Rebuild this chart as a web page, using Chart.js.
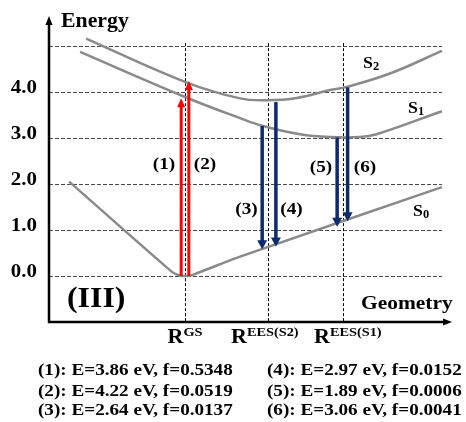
<!DOCTYPE html>
<html>
<head>
<meta charset="utf-8">
<script src="https://cdn.jsdelivr.net/npm/chart.js@4.4.0/dist/chart.umd.min.js"></script>
<style>
  html, body { margin: 0; padding: 0; background: #ffffff; }
  #wrap { width: 466px; height: 422px; }
</style>
</head>
<body>
<div id="wrap"><canvas id="c" width="466" height="422"></canvas></div>
<script>
// ---------- data (geometry coordinate in arbitrary units, energy in eV) ----------
const geomTicks = [3.375, 5.43, 7.29];
const geomMain = ['R', 'R', 'R'];
const geomSup = ['GS', 'EES(S2)', 'EES(S1)'];
const energyTicks = [0, 1, 2, 3, 4];
const energyTickLabels = ['0.0', '1.0', '2.0', '3.0', '4.0'];
const energyGrid = [0, 1, 2, 3, 4, 5];

const s2X = [0.92, 3.375, 4.74, 5.41, 6.15, 6.97, 7.39, 8.46, 9.75];
const s2E = [5.16, 4.22, 3.86, 3.82, 3.87, 4.04, 4.11, 4.40, 4.89];
const s1X = [0.77, 3.375, 4.74, 5.31, 6.23, 6.97, 7.72, 8.13, 9.75];
const s1E = [4.87, 3.89, 3.43, 3.26, 3.08, 3.02, 3.02, 3.08, 3.58];
const s0X = [0.5, 3.05, 3.25, 3.4, 3.55, 4.74, 9.75];
const s0E = [2.05, 0.09, 0.01, 0.0, 0.02, 0.42, 1.93];

// transitions: x position, start energy, end energy
const arrowX = [3.28, 3.47, 5.29, 5.63, 7.15, 7.41];
const arrowFrom = [0.0, 0.0, 3.26, 3.78, 3.01, 4.10];
const arrowTo = [3.86, 4.24, 0.58, 0.64, 1.07, 1.19];
const transE = [3.86, 4.22, 2.64, 2.97, 1.89, 3.06];
const transF = ['0.5348', '0.0519', '0.0137', '0.0152', '0.0006', '0.0041'];

const FONT = '"Liberation Serif", "Times New Roman", serif';
const GRAY = '#8a8a8a';
const RED = '#ff0000';
const NAVY = '#0c2a6c';

function txt(ctx, s, x, y, size, align, sx) {
  align = align || 'left';
  sx = sx || 1.12;
  ctx.save();
  ctx.font = 'bold ' + size + 'px ' + FONT;
  const w = ctx.measureText(s).width * sx;
  const x0 = align === 'left' ? x : (align === 'right' ? x - w : x - w / 2);
  ctx.translate(x0, y);
  ctx.scale(sx, 1);
  ctx.textAlign = 'left';
  ctx.textBaseline = 'alphabetic';
  ctx.fillStyle = '#000';
  ctx.fillText(s, 0, 0);
  ctx.restore();
  return w;
}
function measure(ctx, s, size, sx) {
  ctx.save();
  ctx.font = 'bold ' + size + 'px ' + FONT;
  const w = ctx.measureText(s).width * (sx || 1.12);
  ctx.restore();
  return w;
}

function arrow(ctx, x, y1, y2, color, lw, hw, hl) {
  const dir = y2 < y1 ? -1 : 1; // -1 up
  ctx.save();
  ctx.strokeStyle = color;
  ctx.fillStyle = color;
  ctx.lineWidth = lw;
  ctx.setLineDash([]);
  ctx.beginPath();
  ctx.moveTo(x, y1);
  ctx.lineTo(x, y2 - dir * hl * 0.8);
  ctx.stroke();
  ctx.beginPath();
  ctx.moveTo(x, y2);
  ctx.lineTo(x - hw / 2, y2 - dir * hl);
  ctx.lineTo(x + hw / 2, y2 - dir * hl);
  ctx.closePath();
  ctx.fill();
  ctx.restore();
}

const underlay = {
  id: 'underlay',
  beforeDatasetsDraw(chart) {
    const ctx = chart.ctx, xs = chart.scales.x, ys = chart.scales.y;
    const left = xs.getPixelForValue(0), gridRight = xs.getPixelForValue(9.75);
    ctx.save();
    ctx.strokeStyle = '#4a4a4a';
    ctx.lineWidth = 1;
    ctx.setLineDash([4, 2]);
    energyGrid.forEach(v => {
      const y = Math.round(ys.getPixelForValue(v)) + 0.5;
      ctx.beginPath(); ctx.moveTo(left, y); ctx.lineTo(gridRight, y); ctx.stroke();
    });
    ctx.strokeStyle = '#000';
    ctx.setLineDash([3, 2]);
    geomTicks.forEach(v => {
      const x = Math.round(xs.getPixelForValue(v)) + 0.5;
      ctx.beginPath(); ctx.moveTo(x, ys.getPixelForValue(5.06)); ctx.lineTo(x, ys.getPixelForValue(-1)); ctx.stroke();
    });
    ctx.restore();
  },
  afterDatasetsDraw(chart) {
    const ctx = chart.ctx, xs = chart.scales.x, ys = chart.scales.y;
    arrowX.forEach((ax, i) => {
      const up = arrowTo[i] > arrowFrom[i];
      arrow(ctx, xs.getPixelForValue(ax), ys.getPixelForValue(arrowFrom[i]), ys.getPixelForValue(arrowTo[i]),
        up ? RED : NAVY, up ? 3 : 3.5, up ? 8 : 10, 9);
    });
    const x0 = xs.getPixelForValue(0), y0 = ys.getPixelForValue(-1);
    const yTop = ys.getPixelForValue(ys.max), xEnd = xs.getPixelForValue(xs.max);
    ctx.save();
    ctx.strokeStyle = '#000'; ctx.fillStyle = '#000'; ctx.lineWidth = 2.5; ctx.setLineDash([]);
    ctx.beginPath(); ctx.moveTo(x0, y0 + 1); ctx.lineTo(x0, yTop + 6); ctx.stroke();
    ctx.beginPath(); ctx.moveTo(x0, yTop); ctx.lineTo(x0 - 3.5, yTop + 9); ctx.lineTo(x0 + 3.5, yTop + 9); ctx.closePath(); ctx.fill();
    ctx.beginPath(); ctx.moveTo(x0 - 1, y0); ctx.lineTo(xEnd - 6, y0); ctx.stroke();
    ctx.beginPath(); ctx.moveTo(xEnd, y0); ctx.lineTo(xEnd - 9, y0 - 3.5); ctx.lineTo(xEnd - 9, y0 + 3.5); ctx.closePath(); ctx.fill();
    ctx.restore();
  },
  afterDraw(chart) {
    const ctx = chart.ctx, xs = chart.scales.x, ys = chart.scales.y;
    energyTicks.forEach((v, i) => {
      txt(ctx, energyTickLabels[i], 37, ys.getPixelForValue(v) + 1.5, 18.5, 'right', 1.13);
    });
    txt(ctx, 'Energy', 61, 27, 20, 'left', 1.09);
    txt(ctx, 'Geometry', 361, 309, 19.5, 'left', 1.1);
    txt(ctx, '(III)', 67, 307, 29, 'left', 1.1);
    const dx = [0, -3, 5];
    geomTicks.forEach((v, i) => {
      const wm = measure(ctx, geomMain[i], 20, 1.1);
      const ws = measure(ctx, geomSup[i], 13, 1.1);
      const start = xs.getPixelForValue(v) + dx[i] - (wm + ws) / 2;
      txt(ctx, geomMain[i], start, 343, 20, 'left', 1.1);
      txt(ctx, geomSup[i], start + wm, 335.5, 13, 'left', 1.1);
    });
    const stateLbl = [['S', '2', 363, 68], ['S', '1', 408, 113], ['S', '0', 413, 216]];
    stateLbl.forEach(s => {
      const w = txt(ctx, s[0], s[2], s[3], 16.5, 'left', 1.08);
      txt(ctx, s[1], s[2] + w, s[3] + 2, 11.5, 'left', 1.08);
    });
    const lblPos = [[164, 169], [205, 169], [246.5, 214], [291.5, 214], [321, 172], [365, 172]];
    lblPos.forEach((p, i) => txt(ctx, '(' + (i + 1) + ')', p[0], p[1], 17.5, 'center', 1.1));
    const baselines = [375, 395.5, 415];
    transE.forEach((e, i) => {
      const s = '(' + (i + 1) + '): E=' + e.toFixed(2) + ' eV, f=' + transF[i];
      const col = i < 3 ? 38 : 267;
      txt(ctx, s, col, baselines[i % 3], 16.5, 'left', 1.16);
    });
  }
};

const pts = (xa, ya) => xa.map((x, i) => ({ x: x, y: ya[i] }));

new Chart(document.getElementById('c'), {
  type: 'line',
  data: {
    datasets: [
      { label: 'S2', data: pts(s2X, s2E), borderColor: GRAY, borderWidth: 2.5, pointRadius: 0, tension: 0.4, fill: false },
      { label: 'S1', data: pts(s1X, s1E), borderColor: GRAY, borderWidth: 2.5, pointRadius: 0, tension: 0.4, fill: false },
      { label: 'S0', data: pts(s0X, s0E), borderColor: GRAY, borderWidth: 2.5, pointRadius: 0, tension: 0.25, fill: false }
    ]
  },
  options: {
    responsive: false,
    animation: false,
    devicePixelRatio: 1,
    layout: { padding: { left: 49, right: 14, top: 16, bottom: 100 } },
    scales: {
      x: { type: 'linear', min: 0, max: 10, display: false },
      y: { type: 'linear', min: -1, max: 5.65, display: false }
    },
    plugins: { legend: { display: false }, tooltip: { enabled: false } },
    events: []
  },
  plugins: [underlay]
});
</script>
</body>
</html>
